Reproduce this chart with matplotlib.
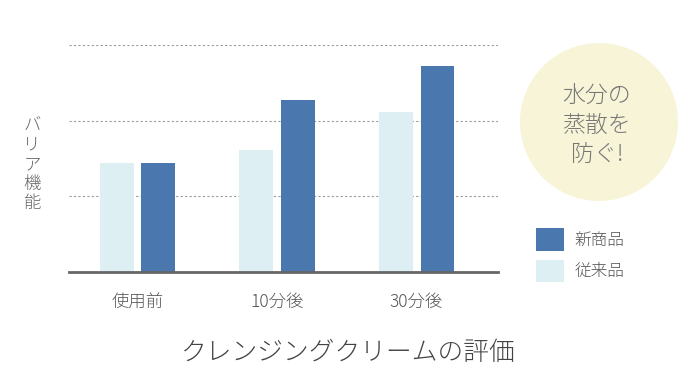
import matplotlib.pyplot as plt
import matplotlib.patches as mpatches
import numpy as np

plt.rcParams['font.family'] = ['Noto Sans CJK JP', 'DejaVu Sans']

categories = ['使用前', '10分後', '30分後']
old_vals = [1.44, 1.61, 2.11]   # 従来品
new_vals = [1.44, 2.27, 2.72]   # 新商品
series_names = ['新商品', '従来品']
c_new = '#4a78ae'
c_old = '#ddeff3'
txt = '#666666'

fig = plt.figure(figsize=(7, 3.78), dpi=100)
ax = fig.add_axes([69/700, 1 - 272/378, (498 - 69)/700, (272 - 45)/378])

x = np.arange(len(categories))
w = 0.243
b_old = ax.bar(x - 0.15, old_vals, width=w, color=c_old, zorder=2)
b_new = ax.bar(x + 0.15, new_vals, width=w, color=c_new, zorder=2)

ax.set_xlim(-0.491, 2.584)
ax.set_ylim(0, 3)
ax.set_yticks([1, 2, 3])
ax.set_yticklabels([])
ax.tick_params(axis='y', length=0)
ax.yaxis.grid(True, ls=(0, (2, 2)), color='#9a9a9a', lw=0.8, zorder=1)
ax.set_xticks(x)
ax.set_xticklabels(categories, fontsize=12.5, color='#555555', fontweight='light')
ax.tick_params(axis='x', length=0, pad=15)
for s in ['top', 'right', 'left']:
    ax.spines[s].set_visible(False)
ax.spines['bottom'].set_linewidth(2)
ax.spines['bottom'].set_color('#666666')
ax.spines['bottom'].set_zorder(3)

fig.text(32/700, 1 - 164/378, '\n'.join('バリア機能'), ha='center', va='center',
         fontsize=12.5, color=txt, linespacing=1.12, fontweight='light')

fig.text(347/700, 1 - 353/378, 'クレンジングクリームの評価', ha='center', va='center',
         fontsize=18.5, color='#444444', fontweight='light')

# callout circle
ov = fig.add_axes([0, 0, 1, 1], zorder=-1)
ov.set_xlim(0, 700)
ov.set_ylim(378, 0)
ov.axis('off')
ov.add_patch(mpatches.Circle((599, 122), 79, color='#f8f4d8', lw=0))
fig.text(597/700, 1 - 125/378, '水分の\n蒸散を\n防ぐ!', ha='center', va='center',
         fontsize=16.5, color='#777777', linespacing=1.25, fontweight='light')

fig.legend([b_new, b_old], series_names, loc='upper left',
           bbox_to_anchor=(536/700, 1 - 228/378), frameon=False,
           prop={'size': 12, 'weight': 'light'}, labelcolor='#555555',
           handlelength=1.7, handleheight=1.7, handletextpad=0.6,
           labelspacing=0.55, borderaxespad=0, borderpad=0)

fig.savefig('out.png', dpi=100)
